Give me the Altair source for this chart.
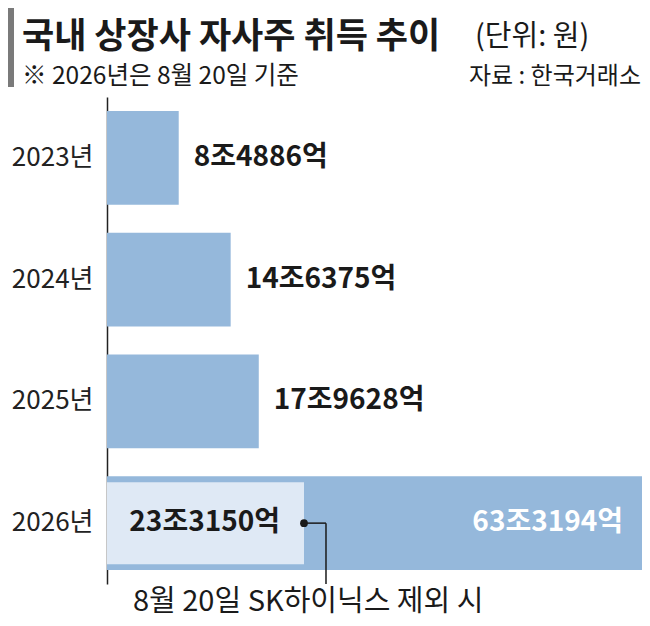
import altair as alt
import pandas as pd

# ---- data ----
years = ["2023년", "2024년", "2025년", "2026년"]
values = [8.4886, 14.6375, 17.9628, 63.3194]          # 조 원
value_labels = ["8조4886억", "14조6375억", "17조9628억", "63조3194억"]

excl_year = "2026년"
excl_value = 23.3150
excl_label = "23조3150억"
excl_note = "8월 20일 SK하이닉스 제외 시"

title_text = "국내 상장사 자사주 취득 추이"
unit_text = "(단위: 원)"
sub_text = "※ 2026년은 8월 20일 기준"
source_text = "자료 : 한국거래소"

FONT = "Noto Sans CJK KR"
BAR = "#95b8db"
LIGHT = "#dfe9f5"
INK = "#1a1a1a"

df = pd.DataFrame({"year": years, "value": values, "label": value_labels})
dfx = pd.DataFrame({"year": [excl_year], "value": [excl_value], "label": [excl_label]})

W, H = 535, 487
xs = alt.Scale(domain=[0, 63.3194], nice=False, zero=True)
ys = alt.Scale(domain=years, paddingInner=0.23, paddingOuter=0.115)

Y = alt.Y("year:N", scale=ys, sort=years,
          axis=alt.Axis(title=None, ticks=False, labelFont=FONT, labelFontSize=26,
                        labelColor="#222222", labelPadding=14, domainColor="#222222",
                        domainWidth=1.5, labelFontWeight="normal"))
X = alt.X("value:Q", scale=xs, axis=None)

base = alt.Chart(df)
bars = base.mark_bar(color=BAR).encode(x=X, y=Y)

VF = 28
outer_labels = alt.Chart(df[df["year"] != excl_year]).mark_text(
    align="left", baseline="middle", dx=15, font=FONT, fontSize=VF, fontWeight="bold", color=INK
).encode(x=X, y=Y, text="label:N")

inner_label = alt.Chart(df[df["year"] == excl_year]).mark_text(
    align="right", baseline="middle", dx=-19, font=FONT, fontSize=VF, fontWeight="bold", color="#ffffff"
).encode(x=X, y=Y, text="label:N")

light_bar = alt.Chart(dfx).mark_bar(color=LIGHT, height=82).encode(x=X, y=Y)
light_label = alt.Chart(dfx).mark_text(
    align="right", baseline="middle", dx=-24, font=FONT, fontSize=VF, fontWeight="bold", color=INK
).encode(x=X, y=Y, text="label:N")

dot = alt.Chart(dfx).mark_point(filled=True, size=60, color=INK, opacity=1).encode(x=X, y=Y)
hline = alt.Chart(dfx).mark_rule(color=INK, strokeWidth=1.5, x2Offset=22).encode(
    x=X, x2=alt.X2("value:Q"), y=Y)
vline = alt.Chart(dfx).mark_rule(color=INK, strokeWidth=1.5, xOffset=22).encode(
    x=X, y=Y, y2=alt.value(H))


def txt(s, x, y, size, weight="normal", align="left", color=INK):
    return alt.Chart(pd.DataFrame({"t": [s]})).mark_text(
        align=align, baseline="alphabetic", font=FONT, fontSize=size, fontWeight=weight, color=color
    ).encode(text="t:N", x=alt.value(x), y=alt.value(y))


note = txt(excl_note, 26, 514, 29)
title = txt(title_text, -85, -49, 35, weight="bold")
unit = txt(unit_text, 368, -51, 29)
sub = txt(sub_text, -85, -13, 24.5)
src = txt(source_text, 534, -13, 24, align="right")
greybar = alt.Chart(pd.DataFrame({"t": [0]})).mark_rect(color="#7a7a7a").encode(
    x=alt.value(-99), x2=alt.value(-93), y=alt.value(-89), y2=alt.value(-10))

chart = alt.layer(
    bars, light_bar, outer_labels, inner_label, light_label, hline, vline, dot,
    note, title, unit, sub, src, greybar
).properties(
    width=W, height=H,
    autosize=alt.AutoSizeParams(type="none"),
    padding={"left": 99, "top": 89, "right": 0, "bottom": 34},
    background="#ffffff",
).configure_view(strokeWidth=0)

chart.save("out.html", embed_options={"renderer": "svg", "actions": False})
